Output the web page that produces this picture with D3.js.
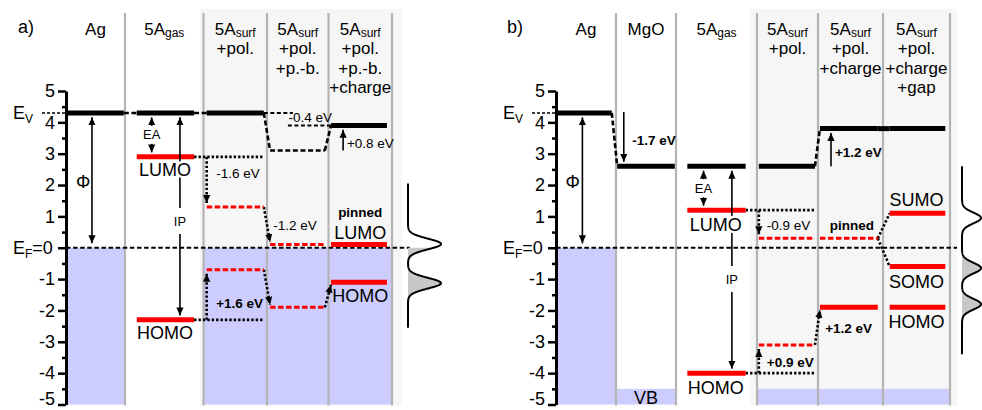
<!DOCTYPE html>
<html>
<head>
<meta charset="utf-8">
<script src="https://cdn.jsdelivr.net/npm/d3@7.9.0/dist/d3.min.js"></script>
<style>
  body { margin: 0; background: #fff; }
  svg { display: block; font-family: "Liberation Sans", Arial, sans-serif; }
  .halo { paint-order: stroke; stroke: #fff; stroke-width: 5px; stroke-linejoin: round; }
</style>
</head>
<body>
<svg id="chart" width="982" height="410"></svg>
<script>
// ---------- data (energies in eV, relative to E_F) ----------
const energyTicks = d3.range(-5, 6, 1);
const minorTicks = d3.range(-4.5, 5, 1);

// panel a) 5A on Ag
const headersA = [["Ag"], ["5A_gas"], ["5A_surf", "+pol."], ["5A_surf", "+pol.", "+p.-b."], ["5A_surf", "+pol.", "+p.-b.", "+charge"]];
const vacA = [4.3, 4.3, 4.3, 3.1, 3.9];
const vacKindA = ["solid", "solid", "solid", "dash", "solid"];
const vacLinkA = ["dash", "dash", "dash", "dash"];
const lumoA = [null, 2.9, 1.3, 0.1, 0.1];
const lumoKindA = [null, "solid", "dash", "dash", "solid"];
const lumoLinkA = [null, "drop", "slant", null];
const homoA = [null, -2.3, -0.7, -1.9, -1.1];
const homoKindA = [null, "solid", "dash", "dash", "solid"];
const homoLinkA = [null, "drop", "slant", "slant"];
const bandsA = [{ c0: 0, c1: 1, top: 0 }, { c0: 2, c1: 5, top: 0 }];
const guidesA = [{ c0: 2.95, c1: 3.42, e: 4.3 }, { c0: 3.34, c1: 4.04, e: 3.9 }];
const arrowsA = [
  { c: 0.44, e0: 4.3, e1: 0, heads: "both" },
  { c: 1.34, e0: 4.3, e1: 2.9, heads: "both", label: "EA", le: 3.6 },
  { c: 1.70, e0: 4.3, e1: -2.3, heads: "both", label: "IP", le: 0.85 },
  { c: 4.23, e0: 3.1, e1: 3.9, heads: "end" }
];
const labelsA = [
  { t: "LUMO", c: 1.51, e: 2.48, k: "orb", halo: true },
  { t: "HOMO", c: 1.51, e: -2.72, k: "orb", halo: true },
  { t: "-1.6 eV", c: 2.2, e: 2.38, k: "shift", a: "start" },
  { t: "-1.2 eV", c: 3.1, e: 0.72, k: "shift", a: "start" },
  { t: "+1.6 eV", c: 2.2, e: -1.76, k: "shiftB", a: "start" },
  { t: "-0.4 eV", c: 3.35, e: 4.16, k: "shift", a: "start" },
  { t: "+0.8 eV", c: 4.29, e: 3.34, k: "shift", a: "start" },
  { t: "pinned", c: 4.5, e: 1.14, k: "pinned" },
  { t: "LUMO", c: 4.5, e: 0.47, k: "orb" },
  { t: "HOMO", c: 4.5, e: -1.54, k: "orb" },
  { t: "Φ", c: 0.29, e: 2.1, k: "phi" }
];
const dosPeaksA = [0.12, -1.13];

// panel b) 5A on MgO/Ag
const headersB = [["Ag"], ["MgO"], ["5A_gas"], ["5A_surf", "+pol."], ["5A_surf", "+pol.", "+charge"], ["5A_surf", "+pol.", "+charge", "+gap"]];
const vacB = [4.3, 2.6, 2.6, 2.6, 3.8, 3.8];
const vacKindB = ["solid", "solid", "solid", "solid", "solid", "solid"];
const vacLinkB = ["dash", null, null, "dash", "solid"];
const lumoB = [null, null, 1.2, 0.3, 0.3, 1.1];
const lumoKindB = [null, null, "solid", "dash", "dash", "solid"];
const lumoLinkB = [null, null, "drop", null, "split"];
const homoB = [null, null, -4.0, -3.1, -1.9, -1.9];
const homoKindB = [null, null, "solid", "dash", "solid", "solid"];
const homoLinkB = [null, null, "drop", "slant", null];
const extraB = [{ c: 5, e: -0.6, kind: "solid" }];
const bandsB = [{ c0: 0, c1: 1, top: 0 }, { c0: 1, c1: 2, top: -4.5 }, { c0: 3, c1: 6, top: -4.5 }];
const arrowsB = [
  { c: 0.44, e0: 4.3, e1: 0, heads: "both" },
  { c: 1.13, e0: 4.33, e1: 2.6, heads: "end" },
  { c: 2.34, e0: 2.6, e1: 1.2, heads: "both", label: "EA", le: 1.9 },
  { c: 2.69, e0: 2.6, e1: -4.0, heads: "both", label: "IP", le: -1.0 },
  { c: 4.2, e0: 2.6, e1: 3.8, heads: "end" }
];
const labelsB = [
  { t: "LUMO", c: 2.49, e: 0.72, k: "orb", halo: true },
  { t: "HOMO", c: 2.49, e: -4.47, k: "orb", halo: true },
  { t: "VB", c: 1.5, e: -4.78, k: "orb" },
  { t: "-1.7 eV", c: 1.27, e: 3.43, k: "shiftB", a: "start" },
  { t: "+1.2 eV", c: 4.26, e: 3.05, k: "shiftB", a: "start" },
  { t: "-0.9 eV", c: 3.16, e: 0.72, k: "shift", a: "start" },
  { t: "pinned", c: 4.52, e: 0.72, k: "pinned" },
  { t: "SUMO", c: 5.5, e: 1.52, k: "orb" },
  { t: "SOMO", c: 5.5, e: -1.09, k: "orb" },
  { t: "HOMO", c: 5.5, e: -2.37, k: "orb" },
  { t: "+0.9 eV", c: 3.16, e: -3.65, k: "shiftB", a: "start" },
  { t: "+1.2 eV", c: 4.11, e: -2.56, k: "shiftB", a: "start" },
  { t: "Φ", c: 0.28, e: 2.1, k: "phi" }
];
const dosPeaksB = [0.95, -0.65, -1.8];

// ---------- layout / style ----------
const y = d3.scaleLinear().domain([-5, 5]).range([404.5, 91]);
const labelStyle = {
  orb: { size: 18, weight: "normal" },
  shift: { size: 13.5, weight: "normal" },
  shiftB: { size: 13.5, weight: "bold" },
  pinned: { size: 13.5, weight: "bold" },
  phi: { size: 18, weight: "normal" },
  small: { size: 13, weight: "normal" }
};
const svg = d3.select("#chart");

const defs = svg.append("defs");
defs.append("marker").attr("id", "head")
  .attr("viewBox", "0 0 10 10").attr("refX", 10).attr("refY", 5)
  .attr("markerUnits", "userSpaceOnUse").attr("markerWidth", 8).attr("markerHeight", 8)
  .attr("orient", "auto-start-reverse")
  .append("path").attr("d", "M0,0.5 L10,5 L0,9.5 z").attr("fill", "#000");

const panels = [
  {
    tag: "a)", tagX: 18, edges: [66, 125, 203.5, 267, 328.5, 392],
    inset: [[0, 0.98], [0.15, 0.88], [0.05, 0.95], [0.05, 0.94], [0.04, 0.92]],
    bg: [200, 402], efEnd: 410, dosX: [408, 441], dosRange: [-2.55, 2.05],
    headers: headersA, vac: vacA, vacKind: vacKindA, vacLink: vacLinkA,
    orbs: [{ e: lumoA, kind: lumoKindA, link: lumoLinkA }, { e: homoA, kind: homoKindA, link: homoLinkA }],
    extra: [], bands: bandsA, guides: guidesA, arrows: arrowsA, labels: labelsA, dos: dosPeaksA
  },
  {
    tag: "b)", tagX: 507, edges: [556, 616, 676, 757, 818, 883, 950],
    inset: [[0, 0.93], [0.02, 0.98], [0.14, 0.86], [0.03, 0.95], [0.03, 0.92], [0.1, 0.93]],
    bg: [750, 957], efEnd: 957, dosX: [962, 981], dosRange: [-3.4, 2.6],
    headers: headersB, vac: vacB, vacKind: vacKindB, vacLink: vacLinkB,
    orbs: [{ e: lumoB, kind: lumoKindB, link: lumoLinkB }, { e: homoB, kind: homoKindB, link: homoLinkB }],
    extra: extraB, bands: bandsB, guides: [], arrows: arrowsB, labels: labelsB, dos: dosPeaksB
  }
];

function line(g, xa, ya, xb, yb, style) {
  const l = g.append("line").attr("x1", xa).attr("y1", ya).attr("x2", xb).attr("y2", yb);
  const s = {
    vac: { stroke: "#000", w: 5 },
    vacDash: { stroke: "#000", w: 2.6, dash: "5 2.6" },
    orb: { stroke: "#f00", w: 5 },
    orbDash: { stroke: "#f00", w: 3, dash: "5.5 2.5" },
    dot: { stroke: "#000", w: 2.6, dash: "2.4 2" },
    thin: { stroke: "#000", w: 1.6 },
    guide: { stroke: "#000", w: 2, dash: "4 2.5" }
  }[style];
  l.attr("stroke", s.stroke).attr("stroke-width", s.w);
  if (s.dash) l.attr("stroke-dasharray", s.dash);
  return l;
}

function drawPanel(P) {
  const g = svg.append("g");
  const n = P.edges.length - 1;
  const x = d3.scaleLinear().domain(P.edges.map((d, i) => i)).range(P.edges);
  const xs = c => x(c + P.inset[c][0]);
  const xe = c => x(c + P.inset[c][1]);

  // light background behind the adsorbed-molecule columns
  g.append("rect").attr("x", P.bg[0]).attr("y", 9)
    .attr("width", P.bg[1] - P.bg[0]).attr("height", y(-5) - 9 + 1).attr("fill", "#f6f6f6");

  // occupied metal / valence band
  g.selectAll(".band").data(P.bands).join("rect").attr("class", "band")
    .attr("x", d => x(d.c0)).attr("width", d => x(d.c1) - x(d.c0))
    .attr("y", d => y(d.top)).attr("height", d => y(-5) - y(d.top)).attr("fill", "#ccccff");

  // column separators
  g.selectAll(".sep").data(d3.range(1, n + 1)).join("line").attr("class", "sep")
    .attr("x1", d => x(d)).attr("x2", d => x(d)).attr("y1", 13).attr("y2", y(-5) + 1)
    .attr("stroke", "#b4b4b4").attr("stroke-width", 2.2);

  // Fermi level
  g.append("line").attr("x1", P.edges[0]).attr("x2", P.efEnd).attr("y1", y(0)).attr("y2", y(0))
    .attr("stroke", "#000").attr("stroke-width", 2.2).attr("stroke-dasharray", "4.5 2.6");
  // vacuum level marker near label
  g.append("line").attr("x1", P.edges[0] - 24).attr("x2", P.edges[0]).attr("y1", y(4.3)).attr("y2", y(4.3))
    .attr("stroke", "#000").attr("stroke-width", 1.5).attr("stroke-dasharray", "3 2");

  // axis
  const ax = g.append("g").attr("transform", `translate(${P.edges[0]},0)`)
    .call(d3.axisLeft(y).tickValues(energyTicks).tickSize(8).tickSizeOuter(0).tickPadding(3)
      .tickFormat(d => d === 0 ? "" : String(d)));
  ax.attr("font-size", 18).attr("font-family", null);
  ax.select(".domain").attr("stroke-width", 3);
  ax.selectAll(".tick line").attr("stroke-width", 2.5);
  ax.selectAll(".tick text").filter(d => d === -5).attr("dy", "0em");
  const axm = g.append("g").attr("transform", `translate(${P.edges[0]},0)`)
    .call(d3.axisLeft(y).tickValues(minorTicks).tickSize(4).tickSizeOuter(0).tickFormat(""));
  axm.select(".domain").remove();
  axm.selectAll(".tick line").attr("stroke-width", 2.5);

  const ev = g.append("text").attr("x", P.edges[0] - 53).attr("y", y(4.3)).attr("dy", "0.35em").attr("font-size", 18);
  ev.append("tspan").text("E");
  ev.append("tspan").attr("font-size", 12).attr("dy", 4).text("V");
  const ef = g.append("text").attr("x", P.edges[0] - 53).attr("y", y(0)).attr("dy", "0.35em").attr("font-size", 18);
  ef.append("tspan").text("E");
  ef.append("tspan").attr("font-size", 12).attr("dy", 4).text("F");
  ef.append("tspan").attr("dy", -4).text("=0");

  // vacuum levels and their links
  P.vac.forEach((e, i) => {
    line(g, xs(i), y(e), xe(i), y(e), P.vacKind[i] === "dash" ? "vacDash" : "vac");
  });
  P.vacLink.forEach((k, i) => {
    if (!k) return;
    line(g, xe(i), y(P.vac[i]), xs(i + 1), y(P.vac[i + 1]), k === "solid" ? "vac" : "vacDash");
  });
  P.guides.forEach(d => line(g, x(d.c0), y(d.e), x(d.c1), y(d.e), "guide"));

  // orbital links (dotted)
  P.orbs.forEach(orb => {
    orb.link.forEach((k, i) => {
      if (!k) return;
      const ea = orb.e[i], eb = orb.e[i + 1];
      const s = ea > eb ? 1 : -1;
      if (k === "drop") {
        line(g, xe(i), y(ea), xe(i + 1), y(ea), "dot");
        line(g, xs(i + 1), y(ea), xs(i + 1), y(eb + s * 0.13), "dot").attr("marker-end", "url(#head)");
      } else if (k === "slant") {
        line(g, xe(i), y(ea), xs(i + 1), y(eb + s * 0.08), "dot").attr("marker-end", "url(#head)");
      } else if (k === "split") {
        const targets = [eb].concat(P.extra.filter(d => d.c === i + 1).map(d => d.e));
        targets.forEach(t => line(g, xe(i), y(ea), xs(i + 1), y(t), "dot"));
      }
    });
  });

  // orbital levels
  P.orbs.forEach(orb => {
    orb.e.forEach((e, i) => {
      if (e === null) return;
      line(g, xs(i), y(e), xe(i), y(e), orb.kind[i] === "dash" ? "orbDash" : "orb");
    });
  });
  P.extra.forEach(d => line(g, xs(d.c), y(d.e), xe(d.c), y(d.e), d.kind === "dash" ? "orbDash" : "orb"));

  // solid arrows (work function, EA, IP, vacuum shifts)
  const tip = 0.14;
  P.arrows.forEach(a => {
    const s = a.e0 > a.e1 ? 1 : -1;
    const pa = a.heads === "both" ? y(a.e0 - s * tip) : y(a.e0);
    const pb = y(a.e1 + s * tip);
    const cx = x(a.c);
    if (a.label) {
      const gap = a.label === "EA" ? 9 : 13;
      const ly = y(a.le);
      const dir = pb > pa ? 1 : -1;
      const l1 = line(g, cx, pa, cx, ly - dir * gap, "thin");
      const l2 = line(g, cx, ly + dir * gap, cx, pb, "thin");
      if (a.heads === "both") l1.attr("marker-start", "url(#head)");
      l2.attr("marker-end", "url(#head)");
      g.append("text").attr("x", cx).attr("y", ly).attr("dy", "0.35em")
        .attr("text-anchor", "middle").attr("font-size", labelStyle.small.size).text(a.label);
    } else {
      const l = line(g, cx, pa, cx, pb, "thin").attr("marker-end", "url(#head)");
      if (a.heads === "both") l.attr("marker-start", "url(#head)");
    }
  });

  // density of states sketch
  const dx = d3.scaleLinear().domain([0, 1]).range(P.dosX);
  const sig = 0.17;
  const dens = e => d3.sum(P.dos, p => Math.exp(-((e - p) ** 2) / (2 * sig * sig)));
  const es = d3.range(P.dosRange[1], P.dosRange[0] - 1e-9, -0.01);
  g.append("path").datum(es.filter(e => e <= 0))
    .attr("d", d3.area().y(e => y(e)).x0(dx(0)).x1(e => dx(dens(e))))
    .attr("fill", "#c8c8c8");
  g.append("path").datum(es)
    .attr("d", d3.line().x(e => dx(dens(e))).y(e => y(e)))
    .attr("fill", "none").attr("stroke", "#000").attr("stroke-width", 2);

  // labels
  g.selectAll(".lbl").data(P.labels).join("text").attr("class", d => "lbl" + (d.halo ? " halo" : ""))
    .attr("x", d => x(d.c)).attr("y", d => y(d.e)).attr("dy", "0.35em")
    .attr("text-anchor", d => d.a || "middle")
    .attr("font-size", d => labelStyle[d.k].size).attr("font-weight", d => labelStyle[d.k].weight)
    .text(d => d.t);

  // column headers
  P.headers.forEach((lines, i) => {
    const cx = (x(i) + x(i + 1)) / 2;
    lines.forEach((ln, j) => {
      const [main, sub] = ln.split("_");
      const t = g.append("text").attr("x", cx).attr("y", 35 + j * 19.3)
        .attr("text-anchor", "middle").attr("font-size", 17);
      t.append("tspan").text(main);
      if (sub) t.append("tspan").attr("font-size", 12).attr("dy", 2).text(sub);
    });
  });

  g.append("text").attr("x", P.tagX).attr("y", 33).attr("font-size", 18).text(P.tag);
}

panels.forEach(drawPanel);
</script>
</body>
</html>
